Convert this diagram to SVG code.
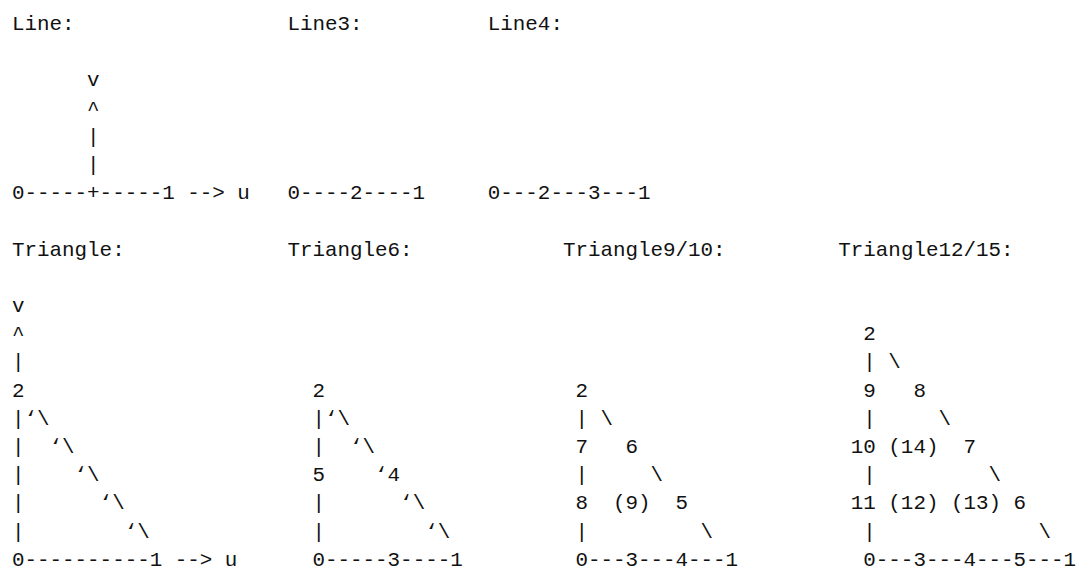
<svg xmlns="http://www.w3.org/2000/svg" width="1079" height="569" viewBox="0 0 1079 569" xml:space="preserve">
<style>
text{font-family:"Liberation Mono","DejaVu Sans Mono",monospace;font-size:20.87px;fill:#111;white-space:pre}
</style>
<rect width="1079" height="569" fill="#fff"/>
<g id="line">
<text x="12" y="30">Line:</text>
<text x="12" y="86.4">      v</text>
<text x="12" y="114.6">      ^</text>
<text x="12" y="142.8">      |</text>
<text x="12" y="171">      |</text>
<text x="12" y="199.2">0-----+-----1 --&gt; u</text>
</g>
<g id="line3">
<text x="287.4" y="30">Line3:</text>
<text x="287.4" y="199.2">0----2----1</text>
</g>
<g id="line4">
<text x="487.8" y="30">Line4:</text>
<text x="487.8" y="199.2">0---2---3---1</text>
</g>
<g id="triangle">
<text x="12" y="255.6">Triangle:</text>
<text x="12" y="312">v</text>
<text x="12" y="340.2">^</text>
<text x="12" y="368.4">|</text>
<text x="12" y="396.6">2</text>
<text x="12" y="424.8">|‘\</text>
<text x="12" y="453">|  ‘\</text>
<text x="12" y="481.2">|    ‘\</text>
<text x="12" y="509.4">|      ‘\</text>
<text x="12" y="537.6">|        ‘\</text>
<text x="12" y="565.8">0----------1 --&gt; u</text>
</g>
<g id="triangle6">
<text x="287.4" y="255.6">Triangle6:</text>
<text x="312.5" y="396.6">2</text>
<text x="312.5" y="424.8">|‘\</text>
<text x="312.5" y="453">|  ‘\</text>
<text x="312.5" y="481.2">5    ‘4</text>
<text x="312.5" y="509.4">|      ‘\</text>
<text x="312.5" y="537.6">|        ‘\</text>
<text x="312.5" y="565.8">0-----3----1</text>
</g>
<g id="triangle9-10">
<text x="562.9" y="255.6">Triangle9/10:</text>
<text x="575.4" y="396.6">2</text>
<text x="575.4" y="424.8">| \</text>
<text x="575.4" y="453">7   6</text>
<text x="575.4" y="481.2">|     \</text>
<text x="575.4" y="509.4">8  (9)  5</text>
<text x="575.4" y="537.6">|         \</text>
<text x="575.4" y="565.8">0---3---4---1</text>
</g>
<g id="triangle12-15">
<text x="838.3" y="255.6">Triangle12/15:</text>
<text x="850.8" y="340.2"> 2</text>
<text x="850.8" y="368.4"> | \</text>
<text x="850.8" y="396.6"> 9   8</text>
<text x="850.8" y="424.8"> |     \</text>
<text x="850.8" y="453">10 (14)  7</text>
<text x="850.8" y="481.2"> |         \</text>
<text x="850.8" y="509.4">11 (12) (13) 6</text>
<text x="850.8" y="537.6"> |             \</text>
<text x="850.8" y="565.8"> 0---3---4---5---1</text>
</g>
</svg>
